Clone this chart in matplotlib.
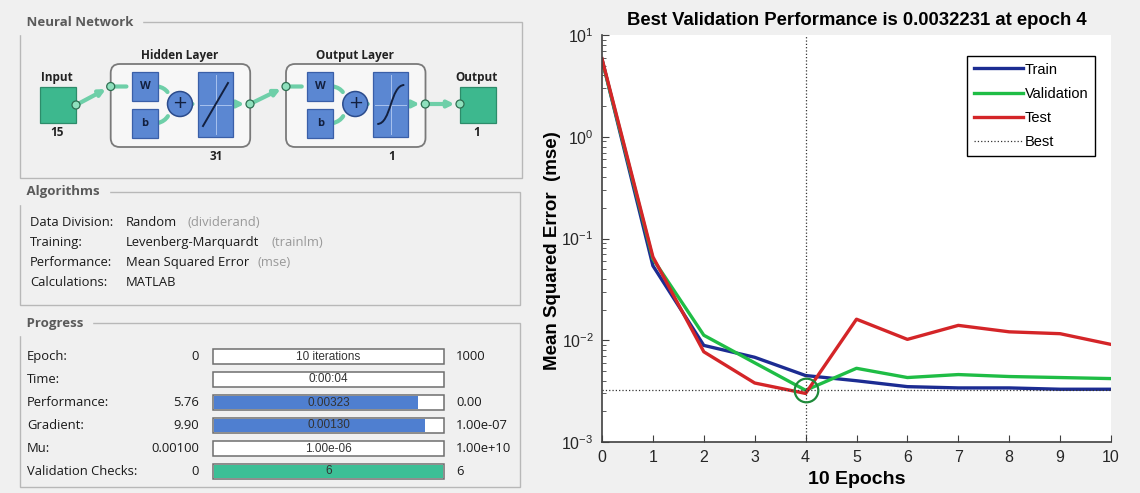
import matplotlib
matplotlib.use("Agg")
import matplotlib.pyplot as plt
from matplotlib.patches import Rectangle, FancyBboxPatch, Circle, FancyArrowPatch, PathPatch
from matplotlib.path import Path
import numpy as np

plt.rcParams['mathtext.fontset'] = 'custom'
plt.rcParams['mathtext.rm'] = 'Liberation Sans'
plt.rcParams['mathtext.it'] = 'Liberation Sans:italic'
plt.rcParams['mathtext.bf'] = 'Liberation Sans:bold'

# ---- data ----
epochs = [0, 1, 2, 3, 4, 5, 6, 7, 8, 9, 10]
train_mse = [5.76, 0.054, 0.0089, 0.0068, 0.0045, 0.0040, 0.0035, 0.0034, 0.0034, 0.0033, 0.0033]
val_mse = [5.70, 0.063, 0.0112, 0.0060, 0.0032231, 0.0053, 0.0043, 0.0046, 0.0044, 0.0043, 0.0042]
test_mse = [5.85, 0.066, 0.0077, 0.0038, 0.0030, 0.0161, 0.0102, 0.0140, 0.0121, 0.0116, 0.0091]
best_epoch = 4
best_perf = 0.0032231

algo_labels = ["Data Division:", "Training:", "Performance:", "Calculations:"]
algo_values = ["Random", "Levenberg-Marquardt", "Mean Squared Error", "MATLAB"]
algo_funcs = ["(dividerand)", "(trainlm)", "(mse)", ""]

prog_labels = ["Epoch:", "Time:", "Performance:", "Gradient:", "Mu:", "Validation Checks:"]
prog_start = ["0", "", "5.76", "9.90", "0.00100", "0"]
prog_text = ["10 iterations", "0:00:04", "0.00323", "0.00130", "1.00e-06", "6"]
prog_end = ["1000", "", "0.00", "1.00e-07", "1.00e+10", "6"]
prog_frac = [0.0, 0.0, 0.89, 0.92, 0.0, 1.0]
prog_fill = [None, None, '#4f7fd0', '#4f7fd0', None, '#3cbf96']

net_sizes = {"input": "15", "hidden": "31", "output_layer": "1", "output": "1"}

# ---- figure ----
W, H = 1140, 493
fig = plt.figure(figsize=(W / 100, H / 100), dpi=100, facecolor='#f0f0f0')
bg = fig.add_axes([0, 0, 1, 1])
bg.set_xlim(0, W)
bg.set_ylim(H, 0)
bg.axis('off')

gui_font = 'Open Sans'
gui_size = 9.4
title_col = '#5a5a5a'
box_col = '#b8b8b8'


def group_box(x0, y0, x1, y1, title):
    bg.add_patch(Rectangle((x0, y0), x1 - x0, y1 - y0, fill=False, ec=box_col, lw=1))
    bg.text(x0 + 3, y0, " " + title + " ", fontsize=9.5, fontweight='bold', color=title_col,
            family=gui_font, va='center', ha='left', backgroundcolor='#f0f0f0')


# Neural Network panel
group_box(20, 22, 522, 178, "Neural Network")

green_sq = '#3db88e'
blue_bx = '#5b87d2'
wire = '#6ecfa8'


def small_circle(x, y):
    bg.add_patch(Circle((x, y), 4, fc='#8fe0bd', ec='#2f6f52', lw=0.9, zorder=6))


def wire_arrow(p0, p1, rad=0.0, head=True):
    style = '-|>' if head else '-'
    bg.add_patch(FancyArrowPatch(p0, p1, arrowstyle=style, mutation_scale=9,
                                 connectionstyle="arc3,rad=%f" % rad,
                                 color=wire, lw=3, zorder=3, shrinkA=0, shrinkB=4))


def layer(ox, title, size, sigmoid):
    bg.add_patch(FancyBboxPatch((110.7 + ox, 64), 139.5, 83, boxstyle="round,pad=0,rounding_size=9",
                                fc='#f7f7f7', ec='#7a7a7a', lw=1.3, zorder=2))
    bg.text(180 + ox, 55, title, fontsize=8.5, fontweight='bold', family=gui_font,
            ha='center', va='center', color='#222222')
    bg.text(216.5 + ox, 157, size, fontsize=8.5, fontweight='bold', family=gui_font,
            ha='center', va='center', color='#222222')
    for yy, lab in [(72, 'W'), (109, 'b')]:
        bg.add_patch(Rectangle((132 + ox, yy), 26, 28.5, fc=blue_bx, ec='#3a5fa8', lw=0.9, zorder=4))
        bg.text(145 + ox, yy + 14.5, lab, fontsize=8, fontweight='bold', family=gui_font,
                ha='center', va='center', color='#13203f', zorder=5)
    # wires inside
    wire_arrow((110.7 + ox, 86.5), (132 + ox, 86.5), head=False)
    wire_arrow((158 + ox, 86.5), (170 + ox, 97), rad=-0.3, head=False)
    wire_arrow((158 + ox, 123), (170 + ox, 111), rad=0.3, head=False)
    wire_arrow((192 + ox, 104), (198 + ox, 104), head=False)
    wire_arrow((233 + ox, 104), (250 + ox, 104), head=True)
    bg.add_patch(Circle((180 + ox, 104), 12.5, fc=blue_bx, ec='#2c4c8c', lw=1.1, zorder=5))
    bg.text(180 + ox, 103, '+', fontsize=13, family='DejaVu Sans', ha='center', va='center',
            color='#13203f', zorder=6)
    bg.add_patch(Rectangle((198 + ox, 72), 35, 65, fc=blue_bx, ec='#3a5fa8', lw=0.9, zorder=4))
    bg.plot([200 + ox, 231 + ox], [104.5, 104.5], color='#a9c2ee', lw=0.7, zorder=5)
    bg.plot([215.5 + ox, 215.5 + ox], [75, 134], color='#a9c2ee', lw=0.7, zorder=5)
    if sigmoid:
        verts = [(202 + ox, 124), (216 + ox, 124), (215 + ox, 85), (229 + ox, 85)]
        codes = [Path.MOVETO, Path.CURVE4, Path.CURVE4, Path.CURVE4]
        bg.add_patch(PathPatch(Path(verts, codes), fill=False, ec='#13203f', lw=1.4, zorder=6))
    else:
        bg.plot([203 + ox, 228 + ox], [126, 83], color='#13203f', lw=1.4, zorder=6)
    small_circle(110.7 + ox, 86.5)
    small_circle(250 + ox, 104)


# input
bg.add_patch(Rectangle((40, 87), 36, 36, fc=green_sq, ec='#2d8c6a', lw=0.9, zorder=4))
bg.text(57, 77, "Input", fontsize=8.5, fontweight='bold', family=gui_font, ha='center', va='center', color='#222222')
bg.text(57, 133, net_sizes["input"], fontsize=8.5, fontweight='bold', family=gui_font, ha='center', va='center', color='#222222')
wire_arrow((76, 105), (110.7, 86.5))
small_circle(76, 105)

layer(0, "Hidden Layer", net_sizes["hidden"], False)
wire_arrow((250, 104), (285.7, 86.5))
layer(175.3, "Output Layer", net_sizes["output_layer"], True)
wire_arrow((425.3, 104), (460, 104))

bg.add_patch(Rectangle((460, 87), 36, 36, fc=green_sq, ec='#2d8c6a', lw=0.9, zorder=4))
bg.text(477, 77, "Output", fontsize=8.5, fontweight='bold', family=gui_font, ha='center', va='center', color='#222222')
bg.text(477, 133, net_sizes["output"], fontsize=8.5, fontweight='bold', family=gui_font, ha='center', va='center', color='#222222')
small_circle(460, 104)

# Algorithms panel
group_box(20, 192, 520, 305, "Algorithms")
for i in range(len(algo_labels)):
    yy = 222 + i * 20.3
    bg.text(30, yy, algo_labels[i], fontsize=gui_size, family=gui_font, va='center', color='#1a1a1a')
    bg.text(125.5, yy, algo_values[i], fontsize=gui_size, family=gui_font, va='center', color='#1a1a1a')
algo_func_x = [187.5, 272, 258, 0]
for i in range(3):
    bg.text(algo_func_x[i], 222 + i * 20.3, algo_funcs[i], fontsize=gui_size, family=gui_font,
            va='center', color='#999999')

# Progress panel
group_box(20, 323, 520, 487, "Progress")
for i in range(len(prog_labels)):
    yy = 356.5 + i * 23
    bg.text(27, yy, prog_labels[i], fontsize=gui_size, family=gui_font, va='center', color='#1a1a1a')
    bg.text(199, yy, prog_start[i], fontsize=gui_size, family=gui_font, va='center', ha='right', color='#1a1a1a')
    bg.text(456, yy, prog_end[i], fontsize=gui_size, family=gui_font, va='center', ha='left', color='#1a1a1a')
    bg.add_patch(Rectangle((213, yy - 7.5), 231, 15, fc='white', ec='#6e6e6e', lw=1.1, zorder=2))
    if prog_fill[i] is not None:
        bg.add_patch(Rectangle((214, yy - 6.5), 229 * prog_frac[i], 13, fc=prog_fill[i], ec='none', zorder=3))
    bg.text(328.5, yy, prog_text[i], fontsize=8.5, family='Liberation Sans', va='center', ha='center',
            color='#333333', zorder=4)

# ---- performance plot ----
ax = fig.add_axes([602 / W, 1 - 442 / H, 509 / W, 407 / H])
ax.set_facecolor('white')
ax.semilogy(epochs, train_mse, color='#1c2c92', lw=2.4, label='Train')
ax.semilogy(epochs, val_mse, color='#1fbd45', lw=2.4, label='Validation')
ax.semilogy(epochs, test_mse, color='#d42528', lw=2.4, label='Test')
ax.axhline(best_perf, color='#333333', ls=':', lw=0.9, label='Best')
ax.axvline(best_epoch, color='#333333', ls=':', lw=0.9)
ax.plot([best_epoch], [best_perf], 'o', ms=17, mfc='none', mec='#1f8a3a', mew=1.6)
ax.set_xlim(0, 10)
ax.set_ylim(1e-3, 1e1)
ax.set_xticks(epochs)
for s in ['top', 'right']:
    ax.spines[s].set_visible(False)
for s in ['left', 'bottom']:
    ax.spines[s].set_color('#404040')
    ax.spines[s].set_linewidth(1.2)
ax.tick_params(direction='in', colors='#404040', labelcolor='#262626', labelsize=11.5, length=5, pad=6)
ax.tick_params(which='minor', direction='in', length=3, colors='#404040')
for lab in ax.get_xticklabels() + ax.get_yticklabels():
    lab.set_family('Liberation Sans')
ax.set_title("Best Validation Performance is 0.0032231 at epoch 4", fontsize=13.3,
             fontweight='bold', family='Liberation Sans', pad=7)
ax.set_ylabel("Mean Squared Error  (mse)", fontsize=13.5, fontweight='bold', family='Liberation Sans')
ax.yaxis.set_label_coords(-0.08, 0.47)
ax.set_xlabel("10 Epochs", fontsize=14, fontweight='bold', family='Liberation Sans', labelpad=4)
leg = ax.legend(loc='upper right', bbox_to_anchor=(1095 / W, 1 - 56 / H), bbox_transform=fig.transFigure,
                borderaxespad=0, fancybox=False, edgecolor='black', framealpha=1,
                prop={'family': 'Liberation Sans', 'size': 10.5}, handlelength=3.4, handletextpad=0.1,
                labelspacing=0.7, borderpad=0.45)
leg.get_frame().set_linewidth(1.0)

fig.savefig("out.png", dpi=100, facecolor=fig.get_facecolor())
